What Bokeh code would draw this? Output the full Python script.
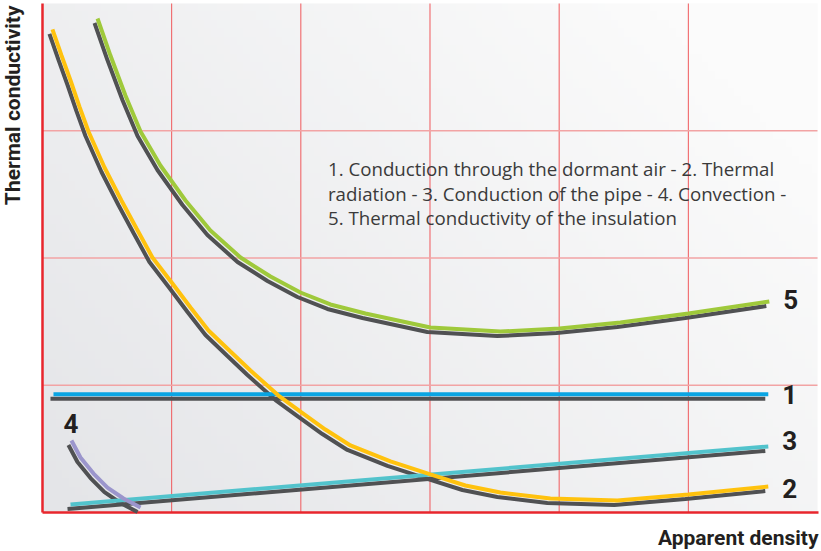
import numpy as np
from bokeh.plotting import figure
from bokeh.models import Label, FixedTicker, Range1d
from bokeh.embed import file_html
from bokeh.resources import INLINE

# ---- data ----
air_x = [0.085, 5.619]
air_y = [0.93, 0.93]

rad_x = [0.077, 0.147, 0.217, 0.286, 0.356, 0.480, 0.611, 0.728, 0.851, 1.006,
         1.146, 1.285, 1.455, 1.610, 1.827, 2.005, 2.190, 2.384, 2.694, 3.003,
         3.274, 3.545, 3.932, 4.450, 5.000, 5.619]
rad_y = [3.796, 3.592, 3.395, 3.190, 2.994, 2.711, 2.452, 2.232, 2.004, 1.800,
         1.611, 1.430, 1.265, 1.116, 0.919, 0.786, 0.652, 0.527, 0.401, 0.299,
         0.212, 0.157, 0.110, 0.094, 0.141, 0.204]

pipe_x = [0.217, 5.619]
pipe_y = [0.063, 0.519]

conv_x = [0.224, 0.294, 0.395, 0.503, 0.627, 0.759]
conv_y = [0.566, 0.432, 0.306, 0.196, 0.110, 0.039]

ins_x = [0.426, 0.526, 0.642, 0.759, 0.913, 1.107, 1.300, 1.533, 1.765, 1.997,
         2.229, 2.500, 3.003, 3.545, 4.002, 4.474, 5.000, 5.627]
ins_y = [3.882, 3.591, 3.277, 2.994, 2.727, 2.452, 2.216, 2.004, 1.855, 1.729,
         1.635, 1.564, 1.454, 1.422, 1.446, 1.493, 1.564, 1.658]

x_ticks = [1, 2, 3, 4, 5]
y_ticks = [1, 2, 3]

legend_text = ("1. Conduction through the dormant air - 2. Thermal\n"
               "radiation - 3. Conduction of the pipe - 4. Convection -\n"
               "5. Thermal conductivity of the insulation")
x_title = "Apparent density"
y_title = "Thermal conductivity"

# ---- figure: the frame covers the whole canvas; the data box is 0..6 x 0..4 ----
X_END, Y_END = 6, 4.0
PX_X, PX_Y = 129.17, 127.25          # pixels per data unit
ML, MR, MT, MB = 42, 3, 3, 38         # pixel margins around the data box
p = figure(width=820, height=550,
           x_range=Range1d(-ML / PX_X, X_END + MR / PX_X),
           y_range=Range1d(-MB / PX_Y, Y_END + MT / PX_Y),
           output_backend="svg", toolbar_location=None,
           min_border=0)
p.axis.visible = False
p.grid.visible = False
p.outline_line_color = None
p.border_fill_color = "white"
p.background_fill_color = "white"

# subtle background gradient inside the data box
H, W = 60, 120
u = np.linspace(0, 1, W)[None, :]
v = np.linspace(0, 1, H)[:, None]
t = np.clip(0.7 * u + 0.45 * v, 0, 1)
c0 = np.array([228, 229, 232]); c1 = np.array([251, 251, 251])
img = np.empty((H, W), dtype=np.uint32)
view = img.view(dtype=np.uint8).reshape((H, W, 4))
for k in range(3):
    view[:, :, k] = (c0[k] + (c1[k] - c0[k]) * t).astype(np.uint8)
view[:, :, 3] = 255
r_img = p.image_rgba(image=[img], x=0, y=0, dw=X_END, dh=Y_END)

# grid lines (from the tick lists), limited to the data box
p.segment(x0=x_ticks, y0=[0] * len(x_ticks), x1=x_ticks, y1=[Y_END] * len(x_ticks),
          line_color="#f0585c", line_width=1)
p.segment(x0=[0] * len(y_ticks), y0=y_ticks, x1=[X_END] * len(y_ticks), y1=y_ticks,
          line_color="#f2a3a4", line_width=1.6)

# red axis lines
p.segment(x0=[0, 0], y0=[0, 0], x1=[0, X_END + 1 / PX_X], y1=[Y_END, 0],
          line_color="#e8262d", line_width=2.5)

# shadow offset (px -> data)
SDX = -3 / PX_X
SDY = -4.5 / PX_Y
SHADOW = "#505153"
LW = 4

series = [
    (air_x, air_y, "#0aa5e3"),
    (pipe_x, pipe_y, "#52c3cc"),
    (conv_x, conv_y, "#9b95cc"),
    (rad_x, rad_y, "#ffc20e"),
    (ins_x, ins_y, "#9fc93b"),
]
for xs, ys, col in series:
    p.line([x + SDX for x in xs], [y + SDY for y in ys], line_color=SHADOW, line_width=LW)
for xs, ys, col in series:
    p.line(xs, ys, line_color=col, line_width=LW)

num_style = dict(text_font="Roboto", text_font_size="26px", text_font_style="bold",
                 text_color="#231f20", text_baseline="middle")
p.add_layout(Label(x=air_x[-1], y=air_y[-1], text="1", x_offset=14, y_offset=0, **num_style))
p.add_layout(Label(x=rad_x[-1], y=rad_y[-1], text="2", x_offset=14, y_offset=-2, **num_style))
p.add_layout(Label(x=pipe_x[-1], y=pipe_y[-1], text="3", x_offset=14, y_offset=6, **num_style))
p.add_layout(Label(x=conv_x[0], y=conv_y[0], text="4", x_offset=-8, y_offset=17, **num_style))
p.add_layout(Label(x=ins_x[-1], y=ins_y[-1], text="5", x_offset=14, y_offset=2, **num_style))

p.add_layout(Label(x=2.21, y=2.80, text=legend_text, text_font="Open Sans", text_font_size="18.7px",
                   text_color="#3a3a3a", text_baseline="top", text_align="left",
                   text_line_height=0.985))

title_style = dict(text_font="Roboto", text_font_size="21px", text_font_style="bold",
                   text_color="#231f20", text_baseline="middle")
p.add_layout(Label(x=X_END, y=0, x_offset=1, y_offset=-25, text=x_title, text_align="right",
                   **title_style))
p.add_layout(Label(x=0, y=Y_END, x_offset=-29, y_offset=-2, text=y_title, angle=np.pi / 2,
                   text_align="right", **title_style))

open("out.html", "w").write(file_html(p, INLINE))
